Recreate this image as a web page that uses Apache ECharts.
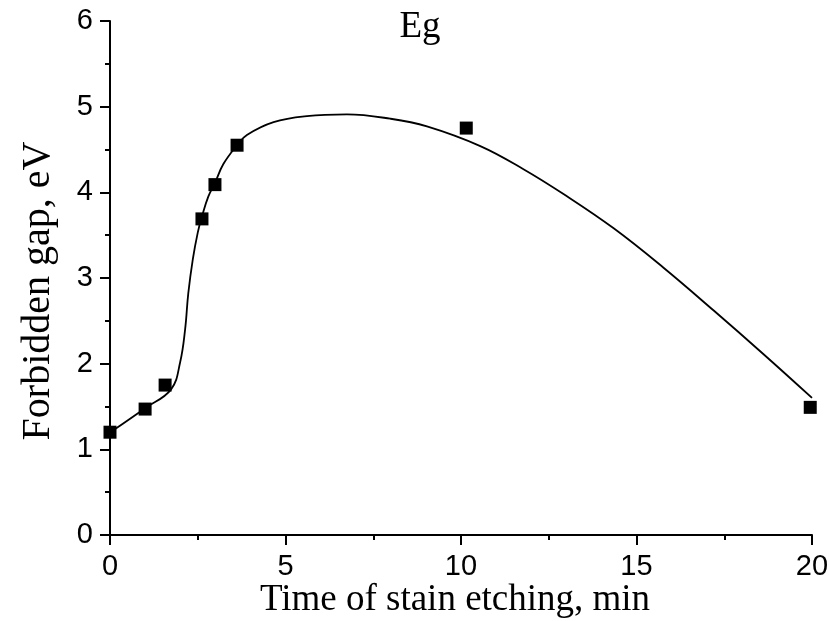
<!DOCTYPE html>
<html>
<head>
<meta charset="utf-8">
<script src="https://cdn.jsdelivr.net/npm/echarts@6/dist/echarts.min.js"></script>
<style>html,body{margin:0;padding:0;background:#fff}#c{width:829px;height:621px}</style>
</head>
<body>
<div id="c"></div>
<script>
// Measured data points (time, min ; Eg, eV)
var timeMin = [0, 1.0, 1.57, 2.62, 2.99, 3.62, 10.15, 19.95];
var egValues = [1.20, 1.47, 1.75, 3.69, 4.09, 4.55, 4.75, 1.49];
// Fitted curve
var curveX = [0.05, 1.0, 1.74, 2.0, 2.14, 2.23, 2.36, 2.50, 2.62, 2.80, 2.99, 3.23, 3.62, 3.9, 4.66, 5.61, 6.75, 7.98, 9.03, 10.55, 11.78, 12.92, 14.35, 15.77, 17.2, 18.62, 20.0];
var curveY = [1.21, 1.48, 1.70, 2.02, 2.40, 2.82, 3.22, 3.53, 3.72, 3.95, 4.11, 4.33, 4.55, 4.67, 4.82, 4.89, 4.91, 4.86, 4.77, 4.54, 4.27, 3.98, 3.58, 3.12, 2.62, 2.11, 1.60];
var xTicks = [0, 5, 10, 15, 20];
var yTicks = [0, 1, 2, 3, 4, 5, 6];

var pts = timeMin.map(function(t, i){ return [t, egValues[i]]; });
var curve = curveX.map(function(t, i){ return [t, curveY[i]]; });

var sansLabel = {fontFamily: 'Liberation Sans', fontSize: 29, color: '#000'};
var blackLine = {color: '#000', width: 2};

var chart = echarts.init(document.getElementById('c'), null, {renderer: 'canvas'});
chart.setOption({
  animation: false,
  backgroundColor: '#fff',
  title: {
    text: 'Eg', left: 415, top: 4, textAlign: 'center',
    textStyle: {fontFamily: 'Liberation Serif', fontSize: 37, fontWeight: 'normal', color: '#000'}
  },
  grid: {left: 110, right: 17, top: 21, bottom: 86, containLabel: false, outerBoundsMode: 'none'},
  graphic: [{
    type: 'text', x: 38, y: 291, rotation: Math.PI / 2,
    style: {text: 'Forbidden gap, eV', fontFamily: 'Liberation Serif', fontSize: 40, fill: '#000',
            align: 'center', verticalAlign: 'middle'}
  }, {
    type: 'text', x: 455, y: 600,
    style: {text: 'Time of stain etching, min', fontFamily: 'Liberation Serif', fontSize: 37, fill: '#000',
            align: 'center', verticalAlign: 'middle'}
  }],
  xAxis: [{
    type: 'value', min: xTicks[0], max: xTicks[xTicks.length-1], interval: 5,
    axisLine: {show: true, onZero: false, lineStyle: blackLine},
    axisTick: {show: true, inside: false, length: 10, lineStyle: blackLine},
    axisLabel: Object.assign({margin: 17}, sansLabel),
    splitLine: {show: false}
  }, {
    type: 'value', position: 'bottom', min: xTicks[0], max: xTicks[xTicks.length-1], interval: 2.5,
    axisLine: {show: false, onZero: false},
    axisTick: {show: true, inside: false, length: 5, lineStyle: blackLine},
    axisLabel: {show: false}, splitLine: {show: false}
  }],
  yAxis: [{
    type: 'value', min: yTicks[0], max: yTicks[yTicks.length-1], interval: 1,
    axisLine: {show: true, onZero: false, lineStyle: blackLine},
    axisTick: {show: true, inside: false, length: 10, lineStyle: blackLine},
    axisLabel: Object.assign({margin: 17}, sansLabel),
    splitLine: {show: false}
  }, {
    type: 'value', position: 'left', min: yTicks[0], max: yTicks[yTicks.length-1], interval: 0.5,
    axisLine: {show: false, onZero: false},
    axisTick: {show: true, inside: false, length: 5, lineStyle: blackLine},
    axisLabel: {show: false}, splitLine: {show: false}
  }],
  series: [
    {
      type: 'line', data: curve, smooth: 0.4, showSymbol: false, symbol: 'none',
      lineStyle: {color: '#000', width: 1.8}, z: 2
    },
    {
      type: 'scatter', data: pts, symbol: 'rect', symbolSize: 13,
      itemStyle: {color: '#000', opacity: 1}, z: 3
    }
  ]
});
</script>
</body>
</html>
